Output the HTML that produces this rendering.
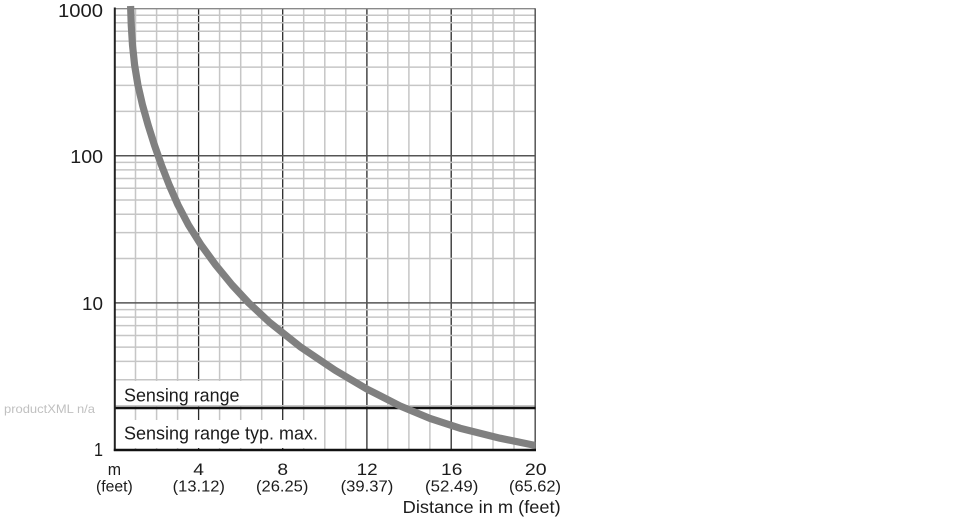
<!DOCTYPE html>
<html>
<head>
<meta charset="utf-8">
<style>
  html, body { margin:0; padding:0; background:#fff; }
  body { width:970px; height:520px; overflow:hidden; }
  svg { display:block; }
  text { font-family: "Liberation Sans", "DejaVu Sans", sans-serif; fill:#1c1c1c; }
</style>
</head>
<body>
<svg width="970" height="520" viewBox="0 0 970 520" xmlns="http://www.w3.org/2000/svg">
  <rect x="0" y="0" width="970" height="520" fill="#fff"/>

  <!-- minor vertical grid -->
  <g stroke="#c6c6c6" stroke-width="1.5">
    <line x1="135.5" y1="8.5" x2="135.5" y2="450"/>
    <line x1="156.6" y1="8.5" x2="156.6" y2="450"/>
    <line x1="177.6" y1="8.5" x2="177.6" y2="450"/>
    <line x1="219.6" y1="8.5" x2="219.6" y2="450"/>
    <line x1="240.7" y1="8.5" x2="240.7" y2="450"/>
    <line x1="261.7" y1="8.5" x2="261.7" y2="450"/>
    <line x1="303.7" y1="8.5" x2="303.7" y2="450"/>
    <line x1="324.8" y1="8.5" x2="324.8" y2="450"/>
    <line x1="345.8" y1="8.5" x2="345.8" y2="450"/>
    <line x1="387.8" y1="8.5" x2="387.8" y2="450"/>
    <line x1="408.9" y1="8.5" x2="408.9" y2="450"/>
    <line x1="429.9" y1="8.5" x2="429.9" y2="450"/>
    <line x1="471.9" y1="8.5" x2="471.9" y2="450"/>
    <line x1="493.0" y1="8.5" x2="493.0" y2="450"/>
    <line x1="514.0" y1="8.5" x2="514.0" y2="450"/>
  </g>
  <!-- major vertical grid -->
  <g stroke="#2a2a2a" stroke-width="1.3">
    <line x1="198.6" y1="8.5" x2="198.6" y2="450"/>
    <line x1="282.7" y1="8.5" x2="282.7" y2="450"/>
    <line x1="366.9" y1="8.5" x2="366.9" y2="450"/>
    <line x1="451.2" y1="8.5" x2="451.2" y2="450"/>
  </g>

  <!-- white boxes behind labels -->
  <rect x="115" y="381" width="127" height="24.5" fill="#fff"/>
  <rect x="115" y="420" width="208" height="28" fill="#fff"/>

  <!-- minor horizontal grid -->
  <g stroke="#c6c6c6" stroke-width="1.5">
    <line x1="114.5" y1="405.7" x2="535" y2="405.7"/>
    <line x1="114.5" y1="379.8" x2="535" y2="379.8"/>
    <line x1="114.5" y1="361.4" x2="535" y2="361.4"/>
    <line x1="114.5" y1="347.1" x2="535" y2="347.1"/>
    <line x1="114.5" y1="335.5" x2="535" y2="335.5"/>
    <line x1="114.5" y1="325.6" x2="535" y2="325.6"/>
    <line x1="114.5" y1="317.1" x2="535" y2="317.1"/>
    <line x1="114.5" y1="309.6" x2="535" y2="309.6"/>
    <line x1="114.5" y1="258.5" x2="535" y2="258.5"/>
    <line x1="114.5" y1="232.6" x2="535" y2="232.6"/>
    <line x1="114.5" y1="214.2" x2="535" y2="214.2"/>
    <line x1="114.5" y1="200.0" x2="535" y2="200.0"/>
    <line x1="114.5" y1="188.3" x2="535" y2="188.3"/>
    <line x1="114.5" y1="178.5" x2="535" y2="178.5"/>
    <line x1="114.5" y1="169.9" x2="535" y2="169.9"/>
    <line x1="114.5" y1="162.4" x2="535" y2="162.4"/>
    <line x1="114.5" y1="111.4" x2="535" y2="111.4"/>
    <line x1="114.5" y1="85.4" x2="535" y2="85.4"/>
    <line x1="114.5" y1="67.1" x2="535" y2="67.1"/>
    <line x1="114.5" y1="52.8" x2="535" y2="52.8"/>
    <line x1="114.5" y1="41.1" x2="535" y2="41.1"/>
    <line x1="114.5" y1="31.3" x2="535" y2="31.3"/>
    <line x1="114.5" y1="22.8" x2="535" y2="22.8"/>
    <line x1="114.5" y1="15.2" x2="535" y2="15.2"/>
  </g>
  <!-- major horizontal grid -->
  <g stroke="#555" stroke-width="1.5">
    <line x1="114.5" y1="302.9" x2="535" y2="302.9"/>
    <line x1="114.5" y1="155.7" x2="535" y2="155.7"/>
  </g>
  <line x1="114.5" y1="8.7" x2="535.5" y2="8.7" stroke="#8a8a8a" stroke-width="1.3"/>
  <line x1="535.2" y1="8.5" x2="535.2" y2="450" stroke="#555" stroke-width="1.5"/>

  <!-- sensing range line -->
  <line x1="114.5" y1="408" x2="535.5" y2="408" stroke="#111" stroke-width="2.4"/>

  <!-- box labels -->
  <text x="124" y="401.5" font-size="18.5" textLength="115.5" lengthAdjust="spacingAndGlyphs">Sensing range</text>
  <text x="124" y="439.3" font-size="18.5" textLength="194" lengthAdjust="spacingAndGlyphs">Sensing range typ. max.</text>

  <!-- curve -->
  <clipPath id="pc"><rect x="114" y="0" width="421.5" height="460"/></clipPath>
  <polyline clip-path="url(#pc)" fill="none" stroke="#808080" stroke-width="7.2" stroke-linecap="butt" stroke-linejoin="round"
    points="130.6,6 131.25,25 132.5,45 134.6,65 137.9,85 142.5,105 148.1,125 154.4,145 161.4,165 169.2,185 178.0,205 188.5,225 201.1,245 215.7,265 232.1,285 248.8,303 270,322.7 300,346.6 335,370.2 366.7,388.9 400,405.9 430,418.4 460,428.2 500,438.2 535,445.4 545,447.3"/>

  <!-- axes -->
  <line x1="114.8" y1="7.5" x2="114.8" y2="451" stroke="#222" stroke-width="2"/>
  <line x1="113.8" y1="450" x2="536" y2="450" stroke="#111" stroke-width="2.4"/>

  <!-- y labels -->
  <g font-size="18" text-anchor="end">
    <text x="103" y="17" textLength="45" lengthAdjust="spacingAndGlyphs">1000</text>
    <text x="103" y="163" textLength="32.7" lengthAdjust="spacingAndGlyphs">100</text>
    <text x="103" y="310" textLength="21" lengthAdjust="spacingAndGlyphs">10</text>
    <text x="103" y="456" textLength="9" lengthAdjust="spacingAndGlyphs">1</text>
  </g>

  <!-- x labels -->
  <g font-size="16.5" text-anchor="middle">
    <text x="114.4" y="475" textLength="13.3" lengthAdjust="spacingAndGlyphs">m</text>
    <text x="198.6" y="475" textLength="10.7" lengthAdjust="spacingAndGlyphs">4</text>
    <text x="282.7" y="475" textLength="10.7" lengthAdjust="spacingAndGlyphs">8</text>
    <text x="367.2" y="475" textLength="21" lengthAdjust="spacingAndGlyphs">12</text>
    <text x="451.7" y="475" textLength="21.3" lengthAdjust="spacingAndGlyphs">16</text>
    <text x="535.8" y="475" textLength="21.7" lengthAdjust="spacingAndGlyphs">20</text>
  </g>
  <g font-size="15.5" text-anchor="middle">
    <text x="114.4" y="491.5" textLength="36.7" lengthAdjust="spacingAndGlyphs">(feet)</text>
    <text x="198.8" y="491.5" textLength="52.3" lengthAdjust="spacingAndGlyphs">(13.12)</text>
    <text x="282.2" y="491.5" textLength="52.3" lengthAdjust="spacingAndGlyphs">(26.25)</text>
    <text x="367" y="491.5" textLength="52.7" lengthAdjust="spacingAndGlyphs">(39.37)</text>
    <text x="451.7" y="491.5" textLength="53.3" lengthAdjust="spacingAndGlyphs">(52.49)</text>
    <text x="535" y="491.5" textLength="52" lengthAdjust="spacingAndGlyphs">(65.62)</text>
  </g>
  <text x="402.7" y="513" font-size="17.5" textLength="158" lengthAdjust="spacingAndGlyphs">Distance in m (feet)</text>

  <!-- watermark -->
  <text x="4" y="413" font-size="12" style="fill:#c0c0c0" textLength="91" lengthAdjust="spacingAndGlyphs">productXML n/a</text>
</svg>
</body>
</html>
